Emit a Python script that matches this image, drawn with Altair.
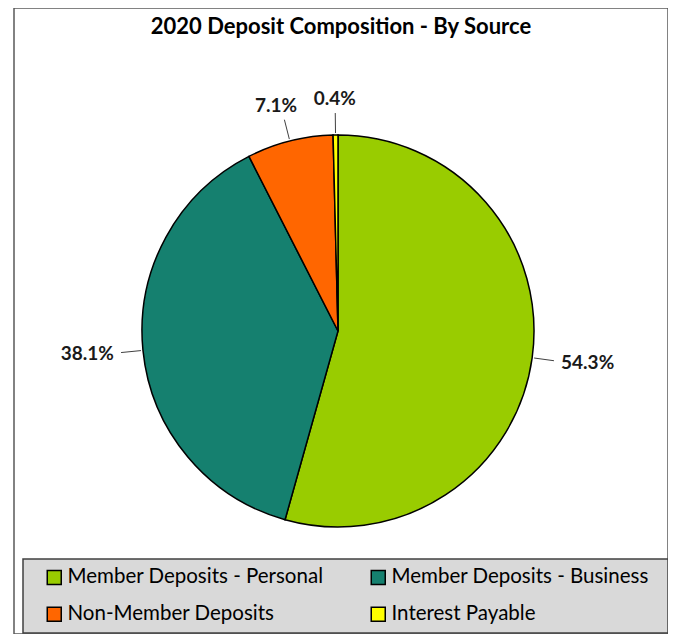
import altair as alt
import pandas as pd

# ---- data ----
categories = ["Member Deposits - Personal", "Member Deposits - Business",
              "Non-Member Deposits", "Interest Payable"]
shares = [54.3, 38.1, 7.1, 0.4]
labels = ["54.3%", "38.1%", "7.1%", "0.4%"]
colors = ["#99cc00", "#15806f", "#ff6600", "#ffff00"]
title_text = "2020 Deposit Composition - By Source"
# legend reads row by row in the reference (two columns, filled column-wise by Vega)
legend_order = [0, 2, 1, 3]

df = pd.DataFrame({
    "category": categories,
    "share": shares,
    "label": labels,
    "order": list(range(len(categories))),
})

legend_domain = [categories[i] for i in legend_order]
legend_range = [colors[i] for i in legend_order]

# ---- layout constants ----
W, H = 654, 626
CX, CY, R = 324, 323, 196
L_START, L_END = R + 2, R + 22
FONT = "Lato"

base = (
    alt.Chart(df)
    .transform_joinaggregate(total="sum(share)")
    .transform_window(cum="sum(share)", sort=[alt.SortField("order")], frame=[None, 0])
    .transform_calculate(
        mid="(datum.cum - datum.share / 2) / datum.total * 2 * PI",
    )
    .transform_calculate(
        ux="sin(datum.mid)",
        uy="-cos(datum.mid)",
    )
    .transform_calculate(
        lx1=f"{CX} + datum.ux * {L_START}",
        ly1=f"{CY} + datum.uy * {L_START}",
        lx2=f"{CX} + datum.ux * {L_END}",
        ly2=f"{CY} + datum.uy * {L_END}",
        tx=f"{CX} + datum.ux * ({L_END} + 34)",
        ty=f"{CY} + datum.uy * ({L_END} + 14)",
    )
)

arcs = base.mark_arc(stroke="black", strokeWidth=1.5, outerRadius=R).encode(
    theta=alt.Theta("share:Q", stack=True),
    order=alt.Order("order:Q"),
    color=alt.Color(
        "category:N",
        scale=alt.Scale(domain=legend_domain, range=legend_range),
        legend=alt.Legend(
            title=" ",
            titleOrient="right",
            titleFontSize=1,
            titleBaseline="top",
            titleAnchor="start",
            titlePadding=11,
            orient="none",
            legendX=9,
            legendY=551,
            columns=2,
            columnPadding=31,
            rowPadding=16,
            padding=8,
            fillColor="#d9d9d9",
            strokeColor="#404040",
            symbolType="square",
            symbolSize=196,
            symbolOffset=13,
            symbolStrokeColor="black",
            symbolStrokeWidth=1.5,
            labelFont=FONT,
            labelFontSize=20.5,
            labelColor="black",
            labelLimit=400,
            labelOffset=3,
        ),
    ),
    x=alt.value(CX),
    y=alt.value(CY),
)

rules = base.mark_rule(color="#404040", strokeWidth=1).encode(
    x=alt.X("lx1:Q", scale=None, axis=None),
    y=alt.Y("ly1:Q", scale=None, axis=None),
    x2="lx2:Q",
    y2="ly2:Q",
)

texts = base.mark_text(font=FONT, fontSize=19, fontWeight="bold", color="#1a1a1a").encode(
    x=alt.X("tx:Q", scale=None, axis=None),
    y=alt.Y("ty:Q", scale=None, axis=None),
    text="label:N",
)

chart = (
    alt.layer(arcs, rules, texts)
    .properties(
        width=W,
        height=H,
        autosize=alt.AutoSizeParams(type="none"),
        padding={"left": 6, "top": 0, "right": 0, "bottom": 0},
        title=alt.TitleParams(
            text=title_text,
            font=FONT,
            fontSize=22,
            fontWeight="bold",
            color="black",
            anchor="middle",
            frame="group",
            offset=-31,
        ),
    )
    .configure_view(stroke="#595959", strokeWidth=1.5, fill="white")
    .configure_legend(strokeWidth=1.5)
)

chart.save("out.html", embed_options={"renderer": "svg", "actions": False})
